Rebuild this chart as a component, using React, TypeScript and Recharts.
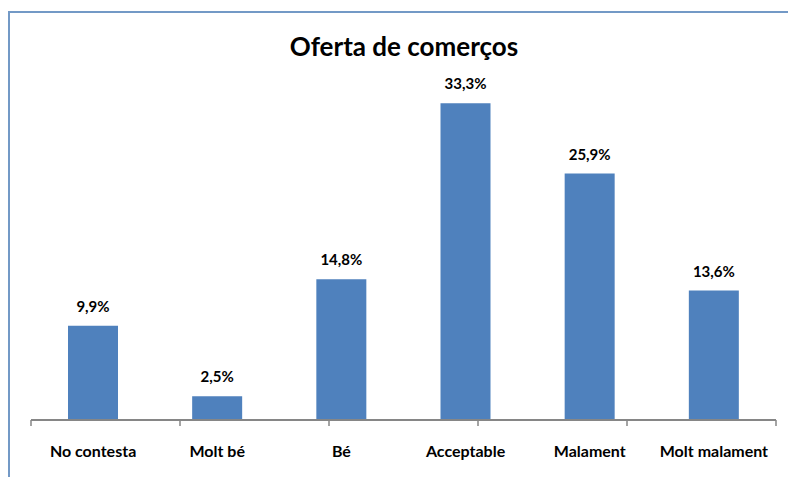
import React from 'react';
import { BarChart, Bar, XAxis, YAxis, LabelList } from 'recharts';

const categories = ['No contesta', 'Molt bé', 'Bé', 'Acceptable', 'Malament', 'Molt malament'];
const percentages = [9.9, 2.5, 14.8, 33.3, 25.9, 13.6];
const boundaryTicks = [0, 1, 2, 3, 4, 5, 6];

const data = categories.map((name, i) => ({ name, value: percentages[i] }));

const font = 'Lato, "Open Sans", sans-serif';
const fmt = (v: any) => Number(v).toFixed(1).replace('.', ',') + '%';

const App = () => {
  return (
    <div style={{ position: 'absolute', left: 0, top: 0, width: 788, height: 477, overflow: 'hidden', background: '#fff' }}>
      <div
        style={{
          position: 'absolute',
          left: 8,
          top: 11,
          width: 800,
          height: 500,
          borderLeft: '2px solid #7399C6',
          borderTop: '2px solid #7399C6',
        }}
      />
      <div
        style={{
          position: 'absolute',
          left: 0,
          width: 808,
          top: 30,
          textAlign: 'center',
          fontFamily: font,
          fontWeight: 'bold',
          fontSize: 26,
          color: '#000',
        }}
      >
        Oferta de comerços
      </div>
      <div style={{ position: 'absolute', left: 0, top: 0 }}>
        <BarChart
          width={788}
          height={477}
          data={data}
          margin={{ top: 87, right: 12, left: 31, bottom: 27 }}
          barSize={50}
        >
          <XAxis
            xAxisId="a"
            type="number"
            domain={[0, 6]}
            ticks={boundaryTicks}
            allowDataOverflow
            height={1}
            tickFormatter={() => ''}
            tickSize={6}
            axisLine={{ stroke: '#868686', strokeWidth: 2 }}
            tickLine={{ stroke: '#868686', strokeWidth: 1.5 }}
          />
          <XAxis
            xAxisId="b"
            dataKey="name"
            height={29}
            axisLine={false}
            tickLine={false}
            tickSize={0}
            tickMargin={25}
            interval={0}
            tick={{ fill: '#000', fontFamily: font, fontWeight: 'bold', fontSize: 16 }}
          />
          <YAxis hide domain={[0, 35]} />
          <Bar dataKey="value" xAxisId="b" fill="#4F81BD" isAnimationActive={false}>
            <LabelList
              dataKey="value"
              position="top"
              offset={14}
              formatter={fmt}
              style={{ fill: '#000', fontFamily: font, fontWeight: 'bold', fontSize: 15 }}
            />
          </Bar>
        </BarChart>
      </div>
    </div>
  );
};

export default App;
